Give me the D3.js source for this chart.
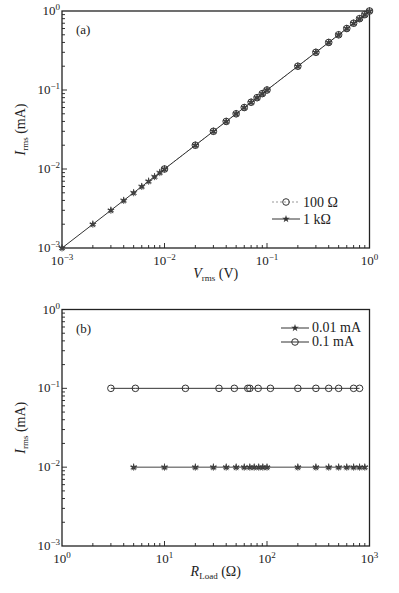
<!DOCTYPE html>
<html><head><meta charset="utf-8">
<script src="https://cdn.jsdelivr.net/npm/d3@7/dist/d3.min.js"></script>
<style>
html,body{margin:0;padding:0;background:#fff;}
</style></head>
<body><svg id="c" width="399" height="593" font-family="'Liberation Serif', 'Times New Roman', Times, serif"></svg>
<script>
// ---- data ----
const aV1k = [0.001,0.002,0.003,0.004,0.005,0.006,0.007,0.008,0.009,0.01,0.02,0.03,0.04,0.05,0.06,0.07,0.08,0.09,0.1,0.2,0.3,0.4,0.5,0.6,0.7,0.8,0.9,1];
const aI1k = [0.001,0.002,0.003,0.004,0.005,0.006,0.007,0.008,0.009,0.01,0.02,0.03,0.04,0.05,0.06,0.07,0.08,0.09,0.1,0.2,0.3,0.4,0.5,0.6,0.7,0.8,0.9,1];
const aV100 = [0.01,0.02,0.03,0.04,0.05,0.06,0.07,0.08,0.09,0.1,0.2,0.3,0.4,0.5,0.6,0.7,0.8,0.9,1];
const aI100 = [0.01,0.02,0.03,0.04,0.05,0.06,0.07,0.08,0.09,0.1,0.2,0.3,0.4,0.5,0.6,0.7,0.8,0.9,1];
const bR001 = [5,10,20,30,40,50,60,68,75,83,91,100,200,300,400,500,600,700,800,900];
const bI001 = [0.01,0.01,0.01,0.01,0.01,0.01,0.01,0.01,0.01,0.01,0.01,0.01,0.01,0.01,0.01,0.01,0.01,0.01,0.01,0.01];
const bR01 = [3,5.2,16,34,48,65,68,82,108,200,300,400,500,700,800];
const bI01 = [0.1,0.1,0.1,0.1,0.1,0.1,0.1,0.1,0.1,0.1,0.1,0.1,0.1,0.1,0.1];
const aXTicks = [-3,-2,-1,0];
const bXTicks = [0,1,2,3];
const yTicks = [-3,-2,-1,0];
const aLegend = ["100 Ω","1 kΩ"];
const bLegend = ["0.01 mA","0.1 mA"];

const FONT = "'Liberation Serif', 'Times New Roman', Times, serif";
const svg = d3.select("#c");
function txt(g){ return g.append("text").attr("font-family",FONT).attr("fill","#222"); }
function expLabel(sel, e){
  sel.append("tspan").text("10");
  sel.append("tspan").attr("font-size",9).attr("dy",-5).text(String(e).replace("-","−"));
}

function panel(top, bottom, xDom, xTicks, label, xTitleMain, xTitleSub, xTitleUnit){
  const L=62, R=369.5;
  const x = d3.scaleLog().domain(xDom).range([L,R]);
  const y = d3.scaleLog().domain([1e-3,1]).range([bottom,top]);
  const g = svg.append("g");
  const lo=Math.log10(xDom[0]), hi=Math.log10(xDom[1]);
  for(let e=lo;e<hi;e++){
    for(let k=1;k<10;k++){
      const v=k*Math.pow(10,e);
      const len = k===1?5:3;
      if(k===1 && e===lo) continue;
      g.append("line").attr("x1",x(v)).attr("x2",x(v)).attr("y1",bottom).attr("y2",bottom-len)
        .attr("stroke","#333").attr("stroke-width",1);
    }
  }
  for(let e=-3;e<0;e++){
    for(let k=1;k<10;k++){
      const v=k*Math.pow(10,e);
      const len = k===1?5:3;
      if(k===1 && e===-3) continue;
      g.append("line").attr("x1",L).attr("x2",L+len).attr("y1",y(v)).attr("y2",y(v))
        .attr("stroke","#333").attr("stroke-width",1);
    }
  }
  g.append("rect").attr("x",L).attr("y",top).attr("width",R-L).attr("height",bottom-top)
    .attr("fill","none").attr("stroke","#222").attr("stroke-width",1.3);
  xTicks.forEach(e=>{
    const t=txt(g).attr("x",x(Math.pow(10,e))).attr("y",bottom+17)
      .attr("text-anchor","middle").attr("font-size",13);
    expLabel(t,e);
  });
  yTicks.forEach(e=>{
    const t=txt(g).attr("x",L-2).attr("y",y(Math.pow(10,e))+4)
      .attr("text-anchor","end").attr("font-size",13);
    expLabel(t,e);
  });
  txt(g).attr("x",76).attr("y",top+23).attr("font-size",13).text(label);
  const yt=txt(g).attr("transform",`translate(25,${(top+bottom)/2}) rotate(-90)`)
    .attr("text-anchor","middle").attr("font-size",14);
  yt.append("tspan").attr("font-style","italic").text("I");
  yt.append("tspan").attr("font-size",9).attr("dy",3).text("rms");
  yt.append("tspan").attr("dy",-3).text(" (mA)");
  const xt=txt(g).attr("x",(L+R)/2).attr("y",bottom+30)
    .attr("text-anchor","middle").attr("font-size",14);
  xt.append("tspan").attr("font-style","italic").text(xTitleMain);
  xt.append("tspan").attr("font-size",9).attr("dy",3).text(xTitleSub);
  xt.append("tspan").attr("dy",-3).text(" "+xTitleUnit);
  return {x,y,g};
}

const starSym = d3.symbol().type(d3.symbolStar).size(18);
const astSym = d3.symbol().type(d3.symbolAsterisk).size(34);
function drawStars(g, pts){
  const s=g.selectAll(null).data(pts).enter().append("g").attr("transform",d=>`translate(${d[0]},${d[1]})`);
  s.append("path").attr("d",starSym).attr("fill","#333");
  s.append("path").attr("d",astSym).attr("fill","none").attr("stroke","#444").attr("stroke-width",0.9);
}
function drawCircles(g, pts){
  g.selectAll(null).data(pts).enter().append("circle").attr("cx",d=>d[0]).attr("cy",d=>d[1]).attr("r",3.3)
    .attr("fill","none").attr("stroke","#333").attr("stroke-width",1);
}

// Panel (a)
const A = panel(11, 248, [1e-3,1], aXTicks, "(a)", "V", "rms", "(V)");
{
  const line = d3.line().x(d=>A.x(d[0])).y(d=>A.y(d[1]));
  const p1k = aV1k.map((v,i)=>[v,aI1k[i]]);
  const p100 = aV100.map((v,i)=>[v,aI100[i]]);
  A.g.append("path").attr("d",line(p100)).attr("fill","none").attr("stroke","#999").attr("stroke-dasharray","2,2");
  A.g.append("path").attr("d",line(p1k)).attr("fill","none").attr("stroke","#333").attr("stroke-width",1);
  drawStars(A.g, p1k.map(d=>[A.x(d[0]),A.y(d[1])]));
  drawCircles(A.g, p100.map(d=>[A.x(d[0]),A.y(d[1])]));
  const lx0=272, lx1=300;
  A.g.append("line").attr("x1",lx0).attr("x2",lx1).attr("y1",202).attr("y2",202).attr("stroke","#999").attr("stroke-dasharray","2,2");
  drawCircles(A.g, [[(lx0+lx1)/2,202]]);
  A.g.append("line").attr("x1",lx0).attr("x2",lx1).attr("y1",219).attr("y2",219).attr("stroke","#333");
  A.g.append("path").attr("d",starSym).attr("transform",`translate(${(lx0+lx1)/2},219)`).attr("fill","#333");
  txt(A.g).attr("x",303).attr("y",207).attr("font-size",14).text(aLegend[0]);
  txt(A.g).attr("x",303).attr("y",224).attr("font-size",14).text(aLegend[1]);
}

// Panel (b)
const B = panel(309.5, 546, [1,1000], bXTicks, "(b)", "R", "Load", "(Ω)");
{
  const line = d3.line().x(d=>B.x(d[0])).y(d=>B.y(d[1]));
  const p1 = bR001.map((v,i)=>[v,bI001[i]]);
  const p2 = bR01.map((v,i)=>[v,bI01[i]]);
  B.g.append("path").attr("d",line(p1)).attr("fill","none").attr("stroke","#444");
  B.g.append("path").attr("d",line(p2)).attr("fill","none").attr("stroke","#333");
  drawStars(B.g, p1.map(d=>[B.x(d[0]),B.y(d[1])]));
  drawCircles(B.g, p2.map(d=>[B.x(d[0]),B.y(d[1])]));
  const lx0=281, lx1=309;
  B.g.append("line").attr("x1",lx0).attr("x2",lx1).attr("y1",328).attr("y2",328).attr("stroke","#333");
  B.g.append("path").attr("d",starSym).attr("transform",`translate(${(lx0+lx1)/2},328)`).attr("fill","#333");
  B.g.append("line").attr("x1",lx0).attr("x2",lx1).attr("y1",342).attr("y2",342).attr("stroke","#333");
  drawCircles(B.g, [[(lx0+lx1)/2,342]]);
  txt(B.g).attr("x",312).attr("y",332).attr("font-size",14).text(bLegend[0]);
  txt(B.g).attr("x",312).attr("y",346).attr("font-size",14).text(bLegend[1]);
}
</script></body></html>
